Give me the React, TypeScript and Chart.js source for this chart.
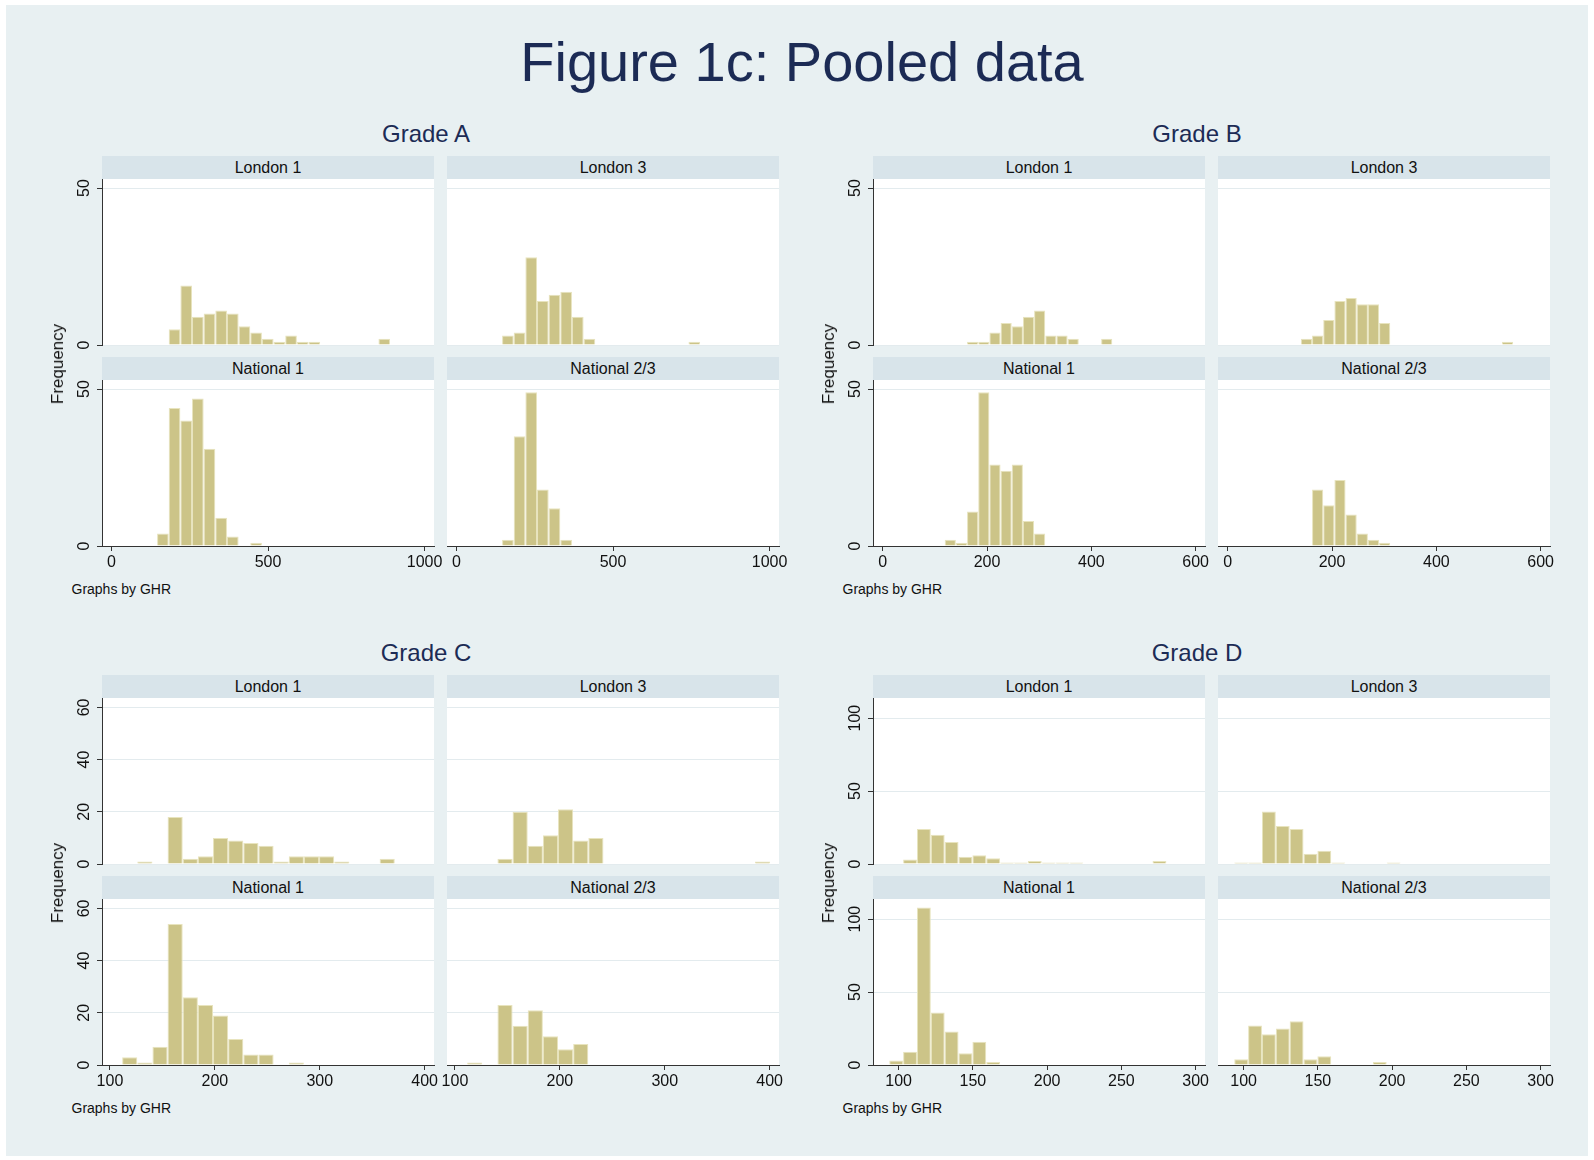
import React, { useEffect, useRef } from "react";
import { Chart, registerables } from "chart.js";
Chart.register(...registerables);

// ---------- text ----------
const FIGURE_TITLE = "Figure 1c: Pooled data";
const GRADE_TITLES = ["Grade A", "Grade B", "Grade C", "Grade D"];
const GROUP_NAMES = ["London 1", "London 3", "National 1", "National 2/3"];
const Y_TITLE = "Frequency";
const NOTE = "Graphs by GHR";

// ---------- Grade A ----------
const A_BIN_START = 145.8;
const A_BIN_WIDTH = 37.2;
const A_LONDON_1 = [0, 5, 19, 9, 10, 11, 10, 6, 4, 2, 1, 3, 1, 1, 0, 0, 0, 0, 0, 2];
const A_LONDON_3 = [3, 4, 28, 14, 16, 17, 9, 2, 0, 0, 0, 0, 0, 0, 0, 0, 1, 0, 0, 0];
const A_NATIONAL_1 = [4, 44, 40, 47, 31, 9, 3, 0, 1, 0, 0, 0, 0, 0, 0, 0, 0, 0, 0, 0];
const A_NATIONAL_23 = [2, 35, 49, 18, 12, 2, 0, 0, 0, 0, 0, 0, 0, 0, 0, 0, 0, 0, 0, 0];
const A_X_TICKS = [0, 500, 1000];
const A_Y_TICKS = [0, 50];
const A_X_MIN = -30;
const A_X_MAX = 1030;
const A_Y_MAX = 52.9;

// ---------- Grade B ----------
const B_BIN_START = 118.75;
const B_BIN_WIDTH = 21.43;
const B_LONDON_1 = [0, 0, 1, 1, 4, 7, 6, 9, 11, 3, 3, 2, 0, 0, 2, 0, 0, 0, 0, 0];
const B_LONDON_3 = [0, 2, 3, 8, 14, 15, 13, 13, 7, 0, 0, 0, 0, 0, 0, 0, 0, 0, 0, 1];
const B_NATIONAL_1 = [2, 1, 11, 49, 26, 24, 26, 8, 4, 0, 0, 0, 0, 0, 0, 0, 0, 0, 0, 0];
const B_NATIONAL_23 = [0, 0, 18, 13, 21, 10, 4, 2, 1, 0, 0, 0, 0, 0, 0, 0, 0, 0, 0, 0];
const B_X_TICKS = [0, 200, 400, 600];
const B_Y_TICKS = [0, 50];
const B_X_MIN = -18.75;
const B_X_MAX = 618;
const B_Y_MAX = 52.9;

// ---------- Grade C ----------
const C_BIN_START = 111.6;
const C_BIN_WIDTH = 14.44;
const C_LONDON_1 = [0, 1, 0, 18, 2, 3, 10, 9, 8, 7, 1, 3, 3, 3, 1, 0, 0, 2, 0, 0];
const C_LONDON_3 = [0, 0, 2, 20, 7, 11, 21, 9, 10, 0, 0, 0, 0, 0, 0, 0, 0, 0, 0, 1];
const C_NATIONAL_1 = [3, 1, 7, 54, 26, 23, 19, 10, 4, 4, 0, 1, 0, 0, 0, 0, 0, 0, 0, 0];
const C_NATIONAL_23 = [1, 0, 23, 15, 21, 11, 6, 8, 0, 0, 0, 0, 0, 0, 0, 0, 0, 0, 0, 0];
const C_X_TICKS = [100, 200, 300, 400];
const C_Y_TICKS = [0, 20, 40, 60];
const C_X_MIN = 92.4;
const C_X_MAX = 408.9;
const C_Y_MAX = 63.6;

// ---------- Grade D ----------
const D_BIN_START = 93.7;
const D_BIN_WIDTH = 9.33;
const D_LONDON_1 = [0, 3, 24, 20, 15, 5, 6, 4, 1, 1, 2, 1, 1, 1, 0, 0, 0, 0, 0, 2];
const D_LONDON_3 = [1, 1, 36, 26, 24, 7, 9, 1, 0, 0, 0, 1, 0, 0, 0, 0, 0, 0, 0, 0];
const D_NATIONAL_1 = [3, 9, 108, 36, 23, 8, 16, 2, 0, 0, 0, 0, 0, 0, 0, 0, 0, 0, 0, 0];
const D_NATIONAL_23 = [4, 27, 21, 25, 30, 4, 6, 0, 0, 0, 2, 0, 0, 0, 0, 0, 0, 0, 0, 0];
const D_X_TICKS = [100, 150, 200, 250, 300];
const D_Y_TICKS = [0, 50, 100];
const D_X_MIN = 82.76;
const D_X_MAX = 306.3;
const D_Y_MAX = 113.8;

// ---------- assembled specs ----------
const GRADES = [
  { binStart: A_BIN_START, binWidth: A_BIN_WIDTH, series: [A_LONDON_1, A_LONDON_3, A_NATIONAL_1, A_NATIONAL_23], xTicks: A_X_TICKS, yTicks: A_Y_TICKS, xMin: A_X_MIN, xMax: A_X_MAX, yMax: A_Y_MAX },
  { binStart: B_BIN_START, binWidth: B_BIN_WIDTH, series: [B_LONDON_1, B_LONDON_3, B_NATIONAL_1, B_NATIONAL_23], xTicks: B_X_TICKS, yTicks: B_Y_TICKS, xMin: B_X_MIN, xMax: B_X_MAX, yMax: B_Y_MAX },
  { binStart: C_BIN_START, binWidth: C_BIN_WIDTH, series: [C_LONDON_1, C_LONDON_3, C_NATIONAL_1, C_NATIONAL_23], xTicks: C_X_TICKS, yTicks: C_Y_TICKS, xMin: C_X_MIN, xMax: C_X_MAX, yMax: C_Y_MAX },
  { binStart: D_BIN_START, binWidth: D_BIN_WIDTH, series: [D_LONDON_1, D_LONDON_3, D_NATIONAL_1, D_NATIONAL_23], xTicks: D_X_TICKS, yTicks: D_Y_TICKS, xMin: D_X_MIN, xMax: D_X_MAX, yMax: D_Y_MAX },
];

// ---------- style / layout ----------
const FONT = "'Liberation Sans', Arial, Helvetica, sans-serif";
const BG = "#e8f0f2";
const STRIP = "#d8e4ea";
const NAVY = "#1c2b55";
const BAR_FILL = "rgb(204,196,136)";
const BAR_EDGE = "rgb(232,228,190)";
const GRID = "#e3ebee";
const AXIS = "#333333";

const PLOT_W = 332;
const PLOT_H = 166;
const STRIP_H = 23;
const ROW_GAP = 12;
const LEFT_M = 40;
const SIDE_M = 22;
const BOTTOM_M = 32;
const TOP_ROW_PAD = 10;

type PanelProps = {
  counts: number[];
  grade: any;
  left: number;
  top: number;
  isLeft: boolean;
  isBottom: boolean;
};

function Panel({ counts, grade, left, top, isLeft, isBottom }: PanelProps) {
  const ref = useRef<HTMLCanvasElement | null>(null);
  const lm = isLeft ? LEFT_M : SIDE_M;
  const w = PLOT_W + lm + SIDE_M;
  const h = PLOT_H + (isBottom ? BOTTOM_M : TOP_ROW_PAD);

  useEffect(() => {
    if (!ref.current) return;
    const data = counts.map((c, i) => ({
      x: grade.binStart + grade.binWidth * (i + 0.5),
      y: c > 0 ? c : null,
    }));
    const plotBg = {
      id: "plotBg",
      beforeDraw(chart: any) {
        const a = chart.chartArea;
        const ctx = chart.ctx;
        ctx.save();
        ctx.fillStyle = "#ffffff";
        ctx.fillRect(a.left, a.top, a.right - a.left, a.bottom - a.top);
        ctx.restore();
      },
    };
    const yLabels = {
      id: "yLabels",
      afterDraw(chart: any) {
        if (!isLeft) return;
        const ys = chart.scales.y;
        const ctx = chart.ctx;
        const ax = chart.chartArea.left;
        ctx.save();
        ctx.fillStyle = "#111111";
        ctx.font = `16px ${FONT}`;
        ctx.textAlign = "center";
        ctx.textBaseline = "middle";
        for (const t of ys.ticks) {
          const py = ys.getPixelForValue(t.value);
          ctx.save();
          ctx.translate(ax - 17, py);
          ctx.rotate(-Math.PI / 2);
          ctx.fillText(String(t.value), 0, 0);
          ctx.restore();
        }
        ctx.restore();
      },
    };
    const chart = new Chart(ref.current, {
      type: "bar",
      data: {
        datasets: [
          {
            data: data as any,
            backgroundColor: BAR_FILL,
            borderColor: BAR_EDGE,
            borderWidth: 1,
            barPercentage: 1,
            categoryPercentage: 1,
            inflateAmount: 0,
          } as any,
        ],
      },
      options: {
        animation: false,
        responsive: false,
        maintainAspectRatio: false,
        devicePixelRatio: 1,
        events: [],
        layout: {
          padding: {
            left: isLeft ? 0 : SIDE_M,
            right: SIDE_M,
            top: 0,
            bottom: isBottom ? 0 : TOP_ROW_PAD,
          },
        },
        plugins: { legend: { display: false }, tooltip: { enabled: false }, title: { display: false } },
        scales: {
          x: {
            type: "linear",
            display: isBottom,
            min: grade.xMin,
            max: grade.xMax,
            offset: false,
            afterBuildTicks: (s: any) => {
              s.ticks = grade.xTicks.map((v: number) => ({ value: v }));
            },
            afterFit: (s: any) => {
              s.height = isBottom ? BOTTOM_M : 0;
            },
            grid: {
              display: true,
              offset: false,
              drawOnChartArea: false,
              drawTicks: true,
              tickLength: 5,
              tickColor: AXIS,
              color: AXIS,
            },
            border: { display: true, color: AXIS, width: 1 },
            ticks: {
              autoSkip: false,
              maxRotation: 0,
              minRotation: 0,
              padding: 2,
              color: "#111111",
              font: { family: FONT, size: 16 },
              callback: (v: any) => String(v),
            },
          },
          y: {
            type: "linear",
            display: true,
            min: 0,
            max: grade.yMax,
            afterBuildTicks: (s: any) => {
              s.ticks = grade.yTicks.map((v: number) => ({ value: v }));
            },
            afterFit: (s: any) => {
              s.width = isLeft ? LEFT_M : 0;
            },
            grid: {
              display: true,
              color: GRID,
              lineWidth: 1,
              drawTicks: isLeft,
              tickLength: 5,
              tickColor: AXIS,
            },
            border: { display: isLeft, color: AXIS, width: 1 },
            ticks: { display: false },
          },
        },
      } as any,
      plugins: [plotBg, yLabels],
    });
    return () => chart.destroy();
  }, []);

  return (
    <canvas
      ref={ref}
      width={w}
      height={h}
      style={{ position: "absolute", left: left - lm, top, width: w, height: h }}
    />
  );
}

function Text({ cx, cy, size, color, children, rotate }: any) {
  return (
    <div
      style={{
        position: "absolute",
        left: cx,
        top: cy,
        transform: `translate(-50%, -50%)${rotate ? " rotate(-90deg)" : ""}`,
        fontSize: size,
        lineHeight: `${Math.round(size * 1.2)}px`,
        color,
        whiteSpace: "nowrap",
        fontFamily: FONT,
      }}
    >
      {children}
    </div>
  );
}

function GradeBlock({ gi }: { gi: number }) {
  const grade = GRADES[gi];
  const gx = gi % 2 === 1 ? 771 : 0;
  const base = gi < 2 ? 156 : 675;
  const cols = [102 + gx, 447 + gx];
  const strips: any[] = [];
  const panels: any[] = [];
  for (let r = 0; r < 2; r++) {
    const stripTop = base + r * (STRIP_H + PLOT_H + ROW_GAP);
    const plotTop = stripTop + STRIP_H;
    for (let c = 0; c < 2; c++) {
      const idx = r * 2 + c;
      panels.push(
        <Panel
          key={`p${idx}`}
          counts={grade.series[idx]}
          grade={grade}
          left={cols[c]}
          top={plotTop}
          isLeft={c === 0}
          isBottom={r === 1}
        />
      );
      strips.push(
        <div
          key={`s${idx}`}
          style={{
            position: "absolute",
            left: cols[c],
            top: stripTop,
            width: PLOT_W,
            height: STRIP_H,
            background: STRIP,
            textAlign: "center",
            lineHeight: `${STRIP_H}px`,
            fontSize: 16,
            color: "#111111",
            fontFamily: FONT,
            whiteSpace: "nowrap",
          }}
        >
          {GROUP_NAMES[idx]}
        </div>
      );
    }
  }
  return (
    <>
      <Text cx={426 + gx} cy={base - 23} size={24} color={NAVY}>
        {GRADE_TITLES[gi]}
      </Text>
      {panels}
      {strips}
      <Text cx={58 + gx} cy={base + 208} size={17} color="#111111" rotate>
        {Y_TITLE}
      </Text>
      <div
        style={{
          position: "absolute",
          left: 71.5 + gx,
          top: base + 433 - 9,
          fontSize: 14,
          lineHeight: "18px",
          color: "#111111",
          fontFamily: FONT,
          whiteSpace: "nowrap",
        }}
      >
        {NOTE}
      </div>
    </>
  );
}

export default function App() {
  return (
    <div
      style={{
        position: "absolute",
        left: 0,
        top: 0,
        width: 1594,
        height: 1160,
        background: "#ffffff",
        overflow: "hidden",
        fontFamily: FONT,
      }}
    >
      <div style={{ position: "absolute", left: 6, top: 5, width: 1582, height: 1151, background: BG }} />
      <Text cx={802} cy={61} size={56} color={NAVY}>
        {FIGURE_TITLE}
      </Text>
      {[0, 1, 2, 3].map((gi) => (
        <GradeBlock key={gi} gi={gi} />
      ))}
    </div>
  );
}
